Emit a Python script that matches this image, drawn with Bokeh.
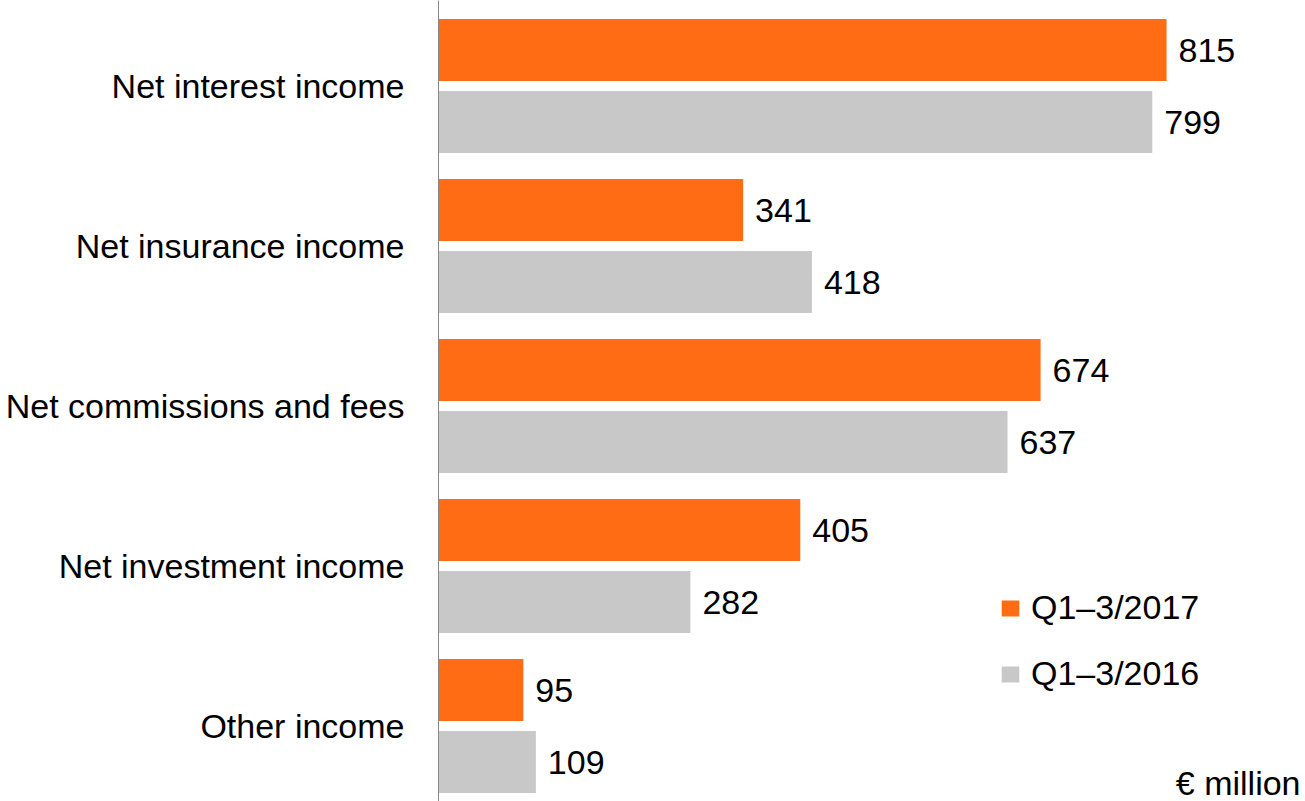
from bokeh.plotting import figure
from bokeh.models import ColumnDataSource, Range1d, LabelSet, Label, Legend, LegendItem, FixedTicker
from bokeh.core.properties import value
from bokeh.embed import file_html
from bokeh.resources import INLINE

categories = ["Net interest income", "Net insurance income", "Net commissions and fees",
              "Net investment income", "Other income"]
q2017 = [815, 341, 674, 405, 95]
q2016 = [799, 418, 637, 282, 109]
series_names = ["Q1\u20133/2017", "Q1\u20133/2016"]
colors = ["#FF6C13", "#C8C8C8"]
unit_label = "\u20ac million"

FONT = "Liberation Sans"
FS = "34px"

pos = list(range(len(categories)))
off = 0.225
bar_h = 0.3875

W, H, LEFT = 1305, 801, 438
px_per_unit = 0.8933
x_end = (W - LEFT) / px_per_unit
y0 = (H - 85.5) / 160
y1 = (0 - 85.5) / 160

p = figure(width=W, height=H, output_backend="svg", toolbar_location=None,
           x_range=Range1d(0, x_end), y_range=Range1d(y0, y1),
           x_axis_location=None, min_border_left=LEFT, min_border_right=0,
           min_border_top=0, min_border_bottom=0)
p.outline_line_color = None
p.grid.visible = False
p.background_fill_color = "white"

src17 = ColumnDataSource(dict(y=[i - off for i in pos], v=q2017, t=[str(v) for v in q2017]))
src16 = ColumnDataSource(dict(y=[i + off for i in pos], v=q2016, t=[str(v) for v in q2016]))

r17 = p.hbar(y="y", right="v", left=0, height=bar_h, source=src17, fill_color=colors[0], line_color=None)
r16 = p.hbar(y="y", right="v", left=0, height=bar_h, source=src16, fill_color=colors[1], line_color=None)

for s in (src17, src16):
    p.add_layout(LabelSet(x="v", y="y", text="t", source=s, x_offset=12, text_align="left",
                          text_baseline="middle", text_font=value(FONT), text_font_size=value(FS),
                          text_color="black"))

ax = p.yaxis[0]
ax.ticker = FixedTicker(ticks=pos)
ax.major_label_overrides = {i: c for i, c in zip(pos, categories)}
ax.major_label_text_font = FONT
ax.major_label_text_font_size = FS
ax.major_label_text_color = "black"
ax.major_tick_line_color = None
ax.minor_tick_line_color = None
ax.major_tick_out = 0
ax.major_tick_in = 0
ax.major_label_standoff = 34
ax.axis_line_color = "#888888"
ax.axis_line_width = 1

legend = Legend(items=[LegendItem(label=series_names[0], renderers=[r17]),
                       LegendItem(label=series_names[1], renderers=[r16])],
                location=(561, 108), orientation="vertical",
                padding=0, margin=0, spacing=27, border_line_color=None,
                background_fill_alpha=0, glyph_width=22, glyph_height=20,
                label_standoff=10, label_text_font=FONT, label_text_font_size=FS,
                label_text_color="black")
p.add_layout(legend, "center")

p.add_layout(Label(x=x_end, y=(782 - 85.5) / 160, text=unit_label, text_align="right",
                   text_baseline="middle", x_offset=-5, text_font=FONT, text_font_size=FS,
                   text_color="black"))

open("out.html", "w").write(file_html(p, INLINE))
